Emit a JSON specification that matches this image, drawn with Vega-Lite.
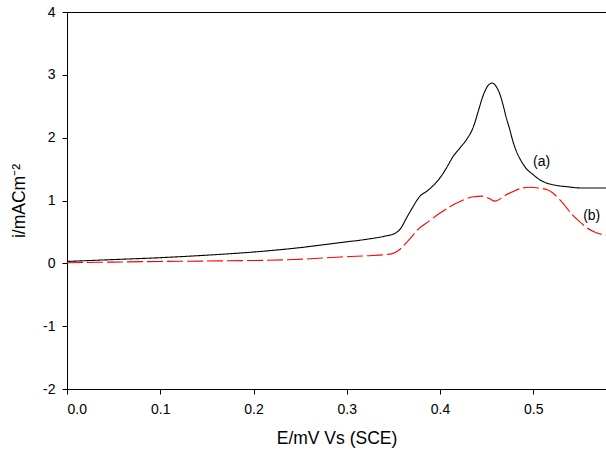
{
  "$schema": "https://vega.github.io/schema/vega-lite/v6.json",
  "width": 539,
  "height": 377,
  "autosize": {"type": "none"},
  "padding": {"left": 67, "top": 12, "right": 0, "bottom": 66},
  "background": "white",
  "config": {
    "view": {"stroke": "black", "strokeWidth": 1},
    "font": "Liberation Sans",
    "axis": {
      "grid": false,
      "domainColor": "black",
      "tickColor": "black",
      "labelColor": "black",
      "titleColor": "black",
      "tickSize": 5,
      "labelFontSize": 14,
      "titleFontSize": 17.5,
      "titleFontWeight": "normal",
      "labelFont": "Liberation Sans",
      "titleFont": "Liberation Sans"
    }
  },
  "layer": [
    {
      "data": {
        "values": [
          {"series": "a", "E": 0.000, "i": 0.03},
          {"series": "a", "E": 0.050, "i": 0.06},
          {"series": "a", "E": 0.100, "i": 0.09},
          {"series": "a", "E": 0.150, "i": 0.13},
          {"series": "a", "E": 0.200, "i": 0.18},
          {"series": "a", "E": 0.250, "i": 0.25},
          {"series": "a", "E": 0.293, "i": 0.33},
          {"series": "a", "E": 0.320, "i": 0.38},
          {"series": "a", "E": 0.340, "i": 0.43},
          {"series": "a", "E": 0.352, "i": 0.48},
          {"series": "a", "E": 0.358, "i": 0.56},
          {"series": "a", "E": 0.364, "i": 0.72},
          {"series": "a", "E": 0.371, "i": 0.90},
          {"series": "a", "E": 0.378, "i": 1.06},
          {"series": "a", "E": 0.386, "i": 1.15},
          {"series": "a", "E": 0.393, "i": 1.24},
          {"series": "a", "E": 0.400, "i": 1.36},
          {"series": "a", "E": 0.407, "i": 1.52},
          {"series": "a", "E": 0.414, "i": 1.70},
          {"series": "a", "E": 0.421, "i": 1.83},
          {"series": "a", "E": 0.428, "i": 1.96},
          {"series": "a", "E": 0.436, "i": 2.18},
          {"series": "a", "E": 0.441, "i": 2.42},
          {"series": "a", "E": 0.446, "i": 2.66},
          {"series": "a", "E": 0.451, "i": 2.82},
          {"series": "a", "E": 0.456, "i": 2.87},
          {"series": "a", "E": 0.460, "i": 2.82},
          {"series": "a", "E": 0.464, "i": 2.70},
          {"series": "a", "E": 0.468, "i": 2.50},
          {"series": "a", "E": 0.471, "i": 2.32},
          {"series": "a", "E": 0.475, "i": 2.12},
          {"series": "a", "E": 0.478, "i": 1.95},
          {"series": "a", "E": 0.482, "i": 1.78},
          {"series": "a", "E": 0.487, "i": 1.63},
          {"series": "a", "E": 0.493, "i": 1.50},
          {"series": "a", "E": 0.500, "i": 1.41},
          {"series": "a", "E": 0.507, "i": 1.33},
          {"series": "a", "E": 0.514, "i": 1.28},
          {"series": "a", "E": 0.525, "i": 1.24},
          {"series": "a", "E": 0.536, "i": 1.22},
          {"series": "a", "E": 0.550, "i": 1.20},
          {"series": "a", "E": 0.565, "i": 1.20},
          {"series": "a", "E": 0.578, "i": 1.20},
          {"series": "b", "E": 0.000, "i": 0.01},
          {"series": "b", "E": 0.050, "i": 0.02},
          {"series": "b", "E": 0.100, "i": 0.03},
          {"series": "b", "E": 0.171, "i": 0.04},
          {"series": "b", "E": 0.243, "i": 0.06},
          {"series": "b", "E": 0.293, "i": 0.10},
          {"series": "b", "E": 0.320, "i": 0.12},
          {"series": "b", "E": 0.348, "i": 0.15},
          {"series": "b", "E": 0.355, "i": 0.20},
          {"series": "b", "E": 0.364, "i": 0.33},
          {"series": "b", "E": 0.370, "i": 0.43},
          {"series": "b", "E": 0.375, "i": 0.52},
          {"series": "b", "E": 0.389, "i": 0.68},
          {"series": "b", "E": 0.400, "i": 0.80},
          {"series": "b", "E": 0.418, "i": 0.96},
          {"series": "b", "E": 0.436, "i": 1.06},
          {"series": "b", "E": 0.446, "i": 1.07},
          {"series": "b", "E": 0.453, "i": 1.03},
          {"series": "b", "E": 0.459, "i": 0.99},
          {"series": "b", "E": 0.465, "i": 1.03},
          {"series": "b", "E": 0.471, "i": 1.09},
          {"series": "b", "E": 0.478, "i": 1.14},
          {"series": "b", "E": 0.486, "i": 1.19},
          {"series": "b", "E": 0.495, "i": 1.21},
          {"series": "b", "E": 0.505, "i": 1.20},
          {"series": "b", "E": 0.515, "i": 1.17},
          {"series": "b", "E": 0.521, "i": 1.12},
          {"series": "b", "E": 0.528, "i": 1.02},
          {"series": "b", "E": 0.535, "i": 0.90},
          {"series": "b", "E": 0.542, "i": 0.77},
          {"series": "b", "E": 0.550, "i": 0.66},
          {"series": "b", "E": 0.557, "i": 0.57},
          {"series": "b", "E": 0.564, "i": 0.51},
          {"series": "b", "E": 0.571, "i": 0.47},
          {"series": "b", "E": 0.578, "i": 0.45}
        ]
      },
      "mark": {"type": "line", "interpolate": "monotone", "strokeWidth": 1.1, "clip": true},
      "encoding": {
        "x": {
          "field": "E",
          "type": "quantitative",
          "scale": {"domain": [0, 0.578], "nice": false, "zero": false},
          "axis": {
            "values": [0, 0.1, 0.2, 0.3, 0.4, 0.5],
            "format": ".1f",
            "title": "E/mV Vs (SCE)",
            "labelPadding": 8,
            "titlePadding": 13
          }
        },
        "y": {
          "field": "i",
          "type": "quantitative",
          "scale": {"domain": [-2, 4], "nice": false},
          "axis": {
            "values": [-2, -1, 0, 1, 2, 3, 4],
            "labelExpr": "'' + datum.value",
            "title": "i/mACm⁻²",
            "labelPadding": 7,
            "titlePadding": 14
          }
        },
        "color": {
          "field": "series",
          "type": "nominal",
          "scale": {"domain": ["a", "b"], "range": ["black", "red"]},
          "legend": null
        },
        "strokeDash": {
          "field": "series",
          "type": "nominal",
          "scale": {"domain": ["a", "b"], "range": [[1, 0], [16, 4]]},
          "legend": null
        }
      }
    },
    {
      "data": {
        "values": [
          {"label": "(a)", "E": 0.509, "i": 1.62},
          {"label": "(b)", "E": 0.5627, "i": 0.75}
        ]
      },
      "mark": {"type": "text", "fontSize": 14, "color": "black", "font": "Liberation Sans", "align": "center", "baseline": "middle"},
      "encoding": {
        "x": {"field": "E", "type": "quantitative"},
        "y": {"field": "i", "type": "quantitative"},
        "text": {"field": "label"}
      }
    }
  ]
}
